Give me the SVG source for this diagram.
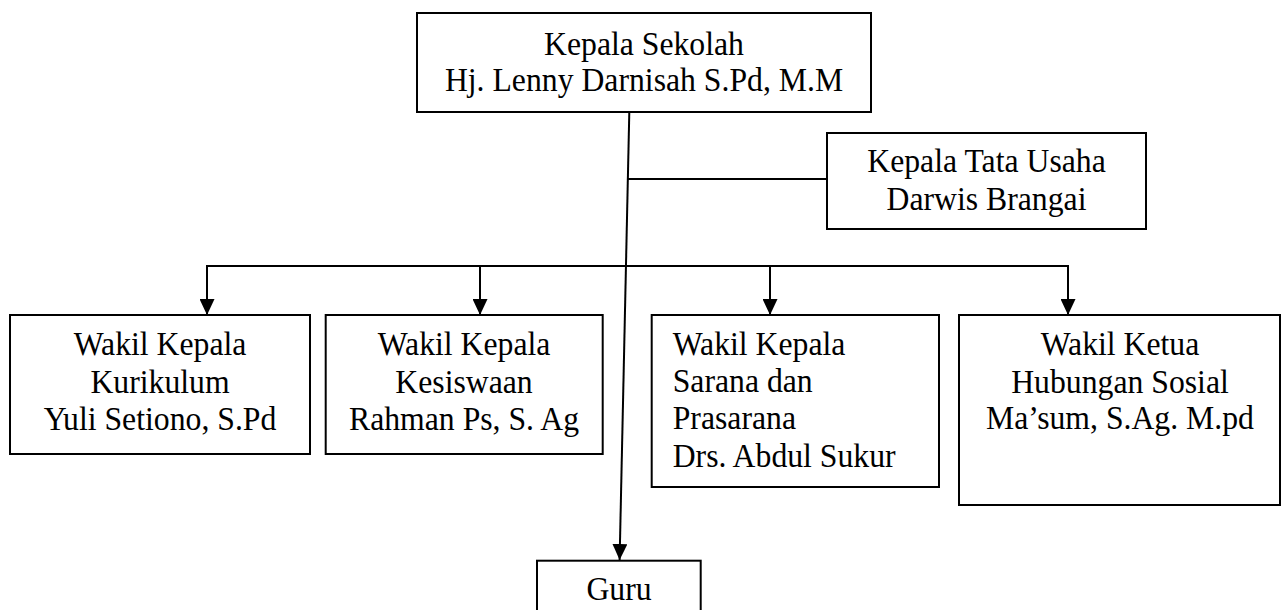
<svg xmlns="http://www.w3.org/2000/svg" width="1282" height="610" viewBox="0 0 1282 610">
<style>
.box{fill:#fff;stroke:#000;stroke-width:2}
.ln{fill:none;stroke:#000;stroke-width:2}
text{font-family:"Liberation Serif","Times New Roman",serif;font-size:34.5px;fill:#000}
.c{text-anchor:middle}
</style>
<defs>
<marker id="arr" viewBox="0 0 16 15" refX="16" refY="7.5" markerWidth="16" markerHeight="15" markerUnits="userSpaceOnUse" orient="auto">
<path d="M0,0 L16,7.5 L0,15 z" fill="#000"/>
</marker>
</defs>
<rect width="1282" height="610" fill="#fff"/>
<g id="connectors">
<line class="ln" x1="629.3" y1="112" x2="619.6" y2="560" marker-end="url(#arr)"/>
<line class="ln" x1="627.9" y1="179" x2="827" y2="179"/>
<polyline class="ln" points="207,266 1068,266"/>
<line class="ln" x1="207" y1="265" x2="207" y2="315" marker-end="url(#arr)"/>
<line class="ln" x1="480" y1="266" x2="480" y2="315" marker-end="url(#arr)"/>
<line class="ln" x1="770" y1="266" x2="770" y2="315" marker-end="url(#arr)"/>
<line class="ln" x1="1068" y1="265" x2="1068" y2="315" marker-end="url(#arr)"/>
</g>
<g id="kepala-sekolah">
<rect class="box" x="417" y="13" width="454" height="99"/>
<text class="c" transform="translate(644,55) scale(0.92,1)">Kepala Sekolah</text>
<text class="c" transform="translate(644,91) scale(0.92,1)">Hj. Lenny Darnisah S.Pd, M.M</text>
</g>
<g id="kepala-tata-usaha">
<rect class="box" x="827" y="133" width="319" height="96"/>
<text class="c" transform="translate(986.5,172) scale(0.92,1)">Kepala Tata Usaha</text>
<text class="c" transform="translate(986.5,210) scale(0.92,1)">Darwis Brangai</text>
</g>
<g id="wakil-kurikulum">
<rect class="box" x="10" y="315" width="300" height="139"/>
<text class="c" transform="translate(160,355) scale(0.92,1)">Wakil Kepala</text>
<text class="c" transform="translate(160,393) scale(0.92,1)">Kurikulum</text>
<text class="c" transform="translate(160,430) scale(0.92,1)">Yuli Setiono, S.Pd</text>
</g>
<g id="wakil-kesiswaan">
<rect class="box" x="325.7" y="315" width="277" height="139"/>
<text class="c" transform="translate(464,355) scale(0.92,1)">Wakil Kepala</text>
<text class="c" transform="translate(464,393) scale(0.92,1)">Kesiswaan</text>
<text class="c" transform="translate(464,430) scale(0.92,1)">Rahman Ps, S. Ag</text>
</g>
<g id="wakil-sarana">
<rect class="box" x="651.7" y="315" width="287.3" height="172"/>
<text transform="translate(672.7,355) scale(0.92,1)">Wakil Kepala</text>
<text transform="translate(672.7,392) scale(0.92,1)">Sarana dan</text>
<text transform="translate(672.7,429) scale(0.92,1)">Prasarana</text>
<text transform="translate(672.7,467) scale(0.92,1)">Drs. Abdul Sukur</text>
</g>
<g id="wakil-humas">
<rect class="box" x="959" y="315" width="321" height="190"/>
<text class="c" transform="translate(1120,355) scale(0.92,1)">Wakil Ketua</text>
<text class="c" transform="translate(1120,393) scale(0.92,1)">Hubungan Sosial</text>
<text class="c" transform="translate(1120,429) scale(0.92,1)">Ma’sum, S.Ag. M.pd</text>
</g>
<g id="guru">
<rect class="box" x="537" y="560.7" width="163.7" height="60"/>
<text class="c" transform="translate(619,600) scale(0.92,1)">Guru</text>
</g>
</svg>
